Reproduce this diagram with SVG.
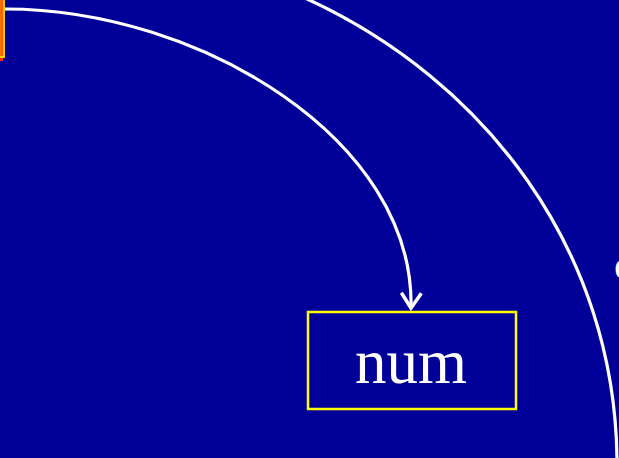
<svg xmlns="http://www.w3.org/2000/svg" width="619" height="458" viewBox="0 0 619 458">
<style>
.conn{fill:none;stroke:#ffffff;stroke-width:3.2}
.box{fill:#000099;stroke:#ffff00;stroke-width:2.5}
.lbl{font-family:"Liberation Serif","Times New Roman",serif;fill:#ffffff}
</style>
<defs>
<marker id="arr" markerUnits="userSpaceOnUse" markerWidth="30" markerHeight="30" refX="17" refY="15" orient="auto" viewBox="0 0 30 30">
<path d="M2,5 L17,15 L2,25" fill="none" stroke="#ffffff" stroke-width="3.5"/>
</marker>
</defs>
<rect width="619" height="458" fill="#000099"/>
<g id="node-top-left">
<rect x="-100" y="-40" width="103" height="101" fill="#ff2200"/>
<rect x="-100" y="-40" width="104" height="97" fill="#ff6600" stroke="#ffcc00" stroke-width="2"/>
</g>
<g id="connectors">
<path class="conn" d="M5,9 C200,9 415,140 411,308" marker-end="url(#arr)"/>
<path class="conn" d="M305,-2 C485,80 615,250 617,460"/>
</g>
<g id="node-num">
<rect class="box" x="308" y="312" width="208" height="97"/>
<text class="lbl" x="411" y="383" font-size="63" text-anchor="middle">num</text>
</g>
<g id="node-right">
<text class="lbl" x="614" y="279" font-size="42">o</text>
</g>
</svg>
